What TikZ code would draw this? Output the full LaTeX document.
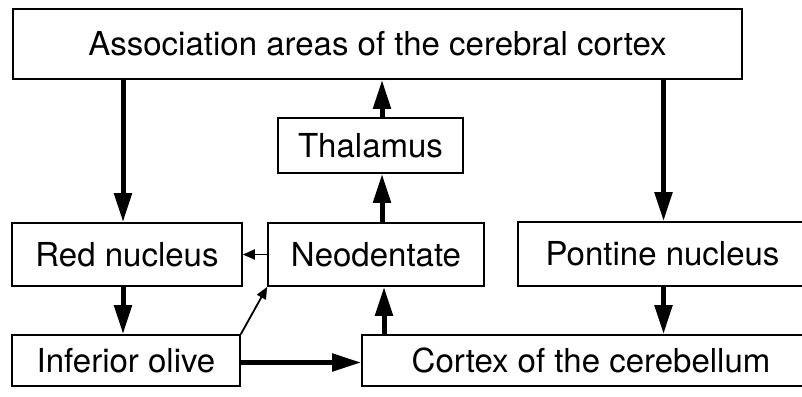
\documentclass[tikz,border=0pt]{standalone}
\usepackage{fontspec}
\setmainfont{TeX Gyre Heros}
\usetikzlibrary{arrows.meta}

\tikzset{
    box/.style={draw, line width=1.6pt, inner sep=0pt, font=\fontsize{33}{38}\selectfont},
    bigarrow/.style={line width=5pt, -{Triangle[length=29pt,width=17pt]}},
    thinarrow/.style={line width=1.8pt, -{Triangle[length=12pt,width=10pt]}}
}

\begin{document}
\begin{tikzpicture}[x=1pt,y=-1pt]
   \clip (0,0) rectangle (802,396);

   % Cortex and thalamus
   \node[box, minimum width=729pt, minimum height=70pt] (assoc) at (377.5,44) {Association areas of the cerebral cortex};
   \node[box, minimum width=185pt, minimum height=55pt] (thal) at (370.5,145.5) {Thalamus};

   % Middle row
   \node[box, minimum width=230pt, minimum height=63pt] (red) at (127,254.5) {Red nucleus};
   \node[box, minimum width=216pt, minimum height=63pt] (neo) at (376,254.5) {Neodentate};
   \node[box, minimum width=289pt, minimum height=64pt] (pont) at (662.5,254) {Pontine nucleus};

   % Bottom row
   \node[box, minimum width=228pt, minimum height=51pt] (olive) at (126,360.5) {Inferior olive};
   \node[box, minimum width=458pt, minimum height=51pt] (cortex) at (591,360.5) {Cortex of the cerebellum};

   % Thick pathways
   \draw[bigarrow] ([xshift=-4pt]red.north |- assoc.south) -- ([xshift=-4pt]red.north);
   \draw[bigarrow] ([xshift=1pt]pont.north |- assoc.south) -- ([xshift=1pt]pont.north);
   \draw[bigarrow] ([xshift=11.5pt]thal.north) -- ([xshift=11.5pt]thal.north |- assoc.south);
   \draw[bigarrow] ([xshift=6pt]neo.north) -- ([xshift=6pt]neo.north |- thal.south);
   \draw[bigarrow] ([xshift=8pt]neo.south |- cortex.north) -- ([xshift=8pt]neo.south);
   \draw[bigarrow] ([xshift=-4pt]red.south) -- ([xshift=-4pt]red.south |- olive.north);
   \draw[bigarrow] ([xshift=1pt]pont.south) -- ([xshift=1pt]pont.south |- cortex.north);
   \draw[bigarrow] ([yshift=-2pt]olive.east) -- ([yshift=-2pt]cortex.west);

   % Thin pathways
   \draw[thinarrow] (neo.west) -- (red.east);
   \draw[thinarrow] (olive.north east) -- (neo.south west);
\end{tikzpicture}
\end{document}
